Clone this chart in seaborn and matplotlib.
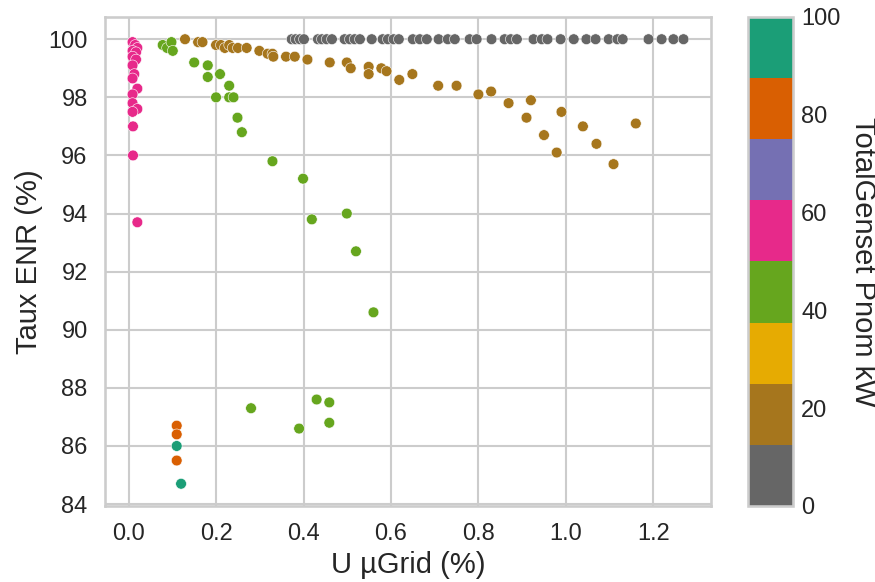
import seaborn as sns
import matplotlib.pyplot as plt
import matplotlib as mpl
import pandas as pd

# values
gray_x = [0.373, 0.382, 0.392, 0.401, 0.433, 0.442, 0.453, 0.465, 0.494, 0.506,
          0.517, 0.529, 0.556, 0.581, 0.593, 0.606, 0.618, 0.650, 0.666, 0.682,
          0.709, 0.730, 0.746, 0.780, 0.796, 0.830, 0.860, 0.874, 0.888, 0.926,
          0.945, 0.958, 0.988, 1.018, 1.047, 1.068, 1.098, 1.118, 1.130, 1.189,
          1.219, 1.246, 1.269]
gray_y = [100.0] * len(gray_x)

brown_x = [0.129, 0.159, 0.169, 0.200, 0.211, 0.220, 0.230, 0.238, 0.250, 0.270,
           0.299, 0.318, 0.329, 0.331, 0.360, 0.380, 0.409, 0.460, 0.499, 0.508,
           0.549, 0.549, 0.578, 0.590, 0.619, 0.649, 0.708, 0.750, 0.800, 0.829,
           0.869, 0.920, 0.910, 0.990, 0.950, 0.979, 1.039, 1.070, 1.109, 1.160]
brown_y = [100.0, 99.9, 99.9, 99.8, 99.8, 99.7, 99.8, 99.7, 99.7, 99.7,
           99.6, 99.5, 99.5, 99.4, 99.4, 99.4, 99.3, 99.2, 99.2, 99.0,
           99.05, 98.8, 99.0, 98.9, 98.6, 98.8, 98.4, 98.4, 98.1, 98.2,
           97.8, 97.9, 97.3, 97.5, 96.7, 96.1, 97.0, 96.4, 95.7, 97.1]

green_x = [0.078, 0.088, 0.098, 0.101, 0.150, 0.181, 0.181, 0.209, 0.230, 0.200,
           0.230, 0.240, 0.249, 0.259, 0.329, 0.399, 0.419, 0.499, 0.520, 0.560,
           0.280, 0.430, 0.459, 0.459, 0.390]
green_y = [99.8, 99.7, 99.9, 99.6, 99.2, 99.1, 98.7, 98.8, 98.4, 98.0,
           98.0, 98.0, 97.3, 96.8, 95.8, 95.2, 93.8, 94.0, 92.7, 90.6,
           87.3, 87.6, 87.5, 86.8, 86.6]

pink_x = [0.009, 0.015, 0.020, 0.009, 0.017, 0.009, 0.017, 0.009, 0.013, 0.009,
          0.020, 0.009, 0.009, 0.020, 0.009, 0.010, 0.010, 0.020]
pink_y = [99.9, 99.8, 99.7, 99.6, 99.55, 99.4, 99.3, 99.1, 98.8, 98.65,
          98.3, 98.1, 97.8, 97.6, 97.5, 97.0, 96.0, 93.7]

orange_x = [0.110, 0.110, 0.110]
orange_y = [86.7, 86.4, 85.5]

teal_x = [0.110, 0.120]
teal_y = [86.0, 84.7]

groups = [(gray_x, gray_y, 0), (brown_x, brown_y, 20), (green_x, green_y, 40),
          (pink_x, pink_y, 60), (orange_x, orange_y, 80), (teal_x, teal_y, 100)]

rows = []
for xs, ys, p in groups:
    for a, b in zip(xs, ys):
        rows.append({"U µGrid (%)": a, "Taux ENR (%)": b, "TotalGenset Pnom kW": p})
df = pd.DataFrame(rows)

sns.set_theme(style="whitegrid", context="talk")
plt.rcParams["font.family"] = ["Liberation Sans", "DejaVu Sans"]

fig = plt.figure(figsize=(8.75, 5.82), dpi=100)
ax = fig.add_axes([0.12, 0.1306, 0.6926, 0.8402])
cax = fig.add_axes([0.855, 0.1306, 0.051, 0.8402])

cmap = plt.get_cmap("Dark2_r")
norm = mpl.colors.Normalize(vmin=0, vmax=100)

sns.scatterplot(data=df, x="U µGrid (%)", y="Taux ENR (%)", hue="TotalGenset Pnom kW",
                palette=cmap, hue_norm=norm, s=60, edgecolor="white", linewidth=0.4,
                legend=False, ax=ax)

ax.set_xticks([0.0, 0.2, 0.4, 0.6, 0.8, 1.0, 1.2])
ax.set_yticks(range(84, 101, 2))
ax.tick_params(labelsize=17)
ax.set_xlabel("U µGrid (%)", fontsize=21)
ax.set_ylabel("Taux ENR (%)", fontsize=21)

sm = mpl.cm.ScalarMappable(norm=norm, cmap=cmap)
cb = fig.colorbar(sm, cax=cax)
cb.set_ticks([0, 20, 40, 60, 80, 100])
cb.ax.tick_params(labelsize=17, length=0, pad=6)
cb.outline.set_edgecolor("0.8")
cb.set_label("TotalGenset Pnom kW", rotation=270, fontsize=21, labelpad=26)

fig.savefig("out.png", dpi=100)
